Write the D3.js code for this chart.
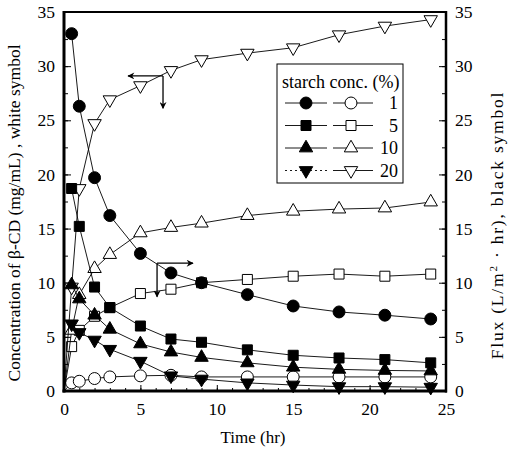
<!DOCTYPE html>
<html>
<head>
<meta charset="utf-8">
<script src="https://cdn.jsdelivr.net/npm/d3@7"></script>
<style>
  html, body { margin: 0; padding: 0; background: #fff; }
  text { font-family: "Liberation Serif", "DejaVu Serif", serif; fill: #000; }
</style>
</head>
<body>
<div id="chart"></div>
<script>
// sampling times (hr)
var fluxTimes = [0.5, 1, 2, 3, 5, 7, 9, 12, 15, 18, 21, 24];
var concTimes = [0, 0.5, 1, 2, 3, 5, 7, 9, 12, 15, 18, 21, 24];

// flux (L/m2 hr), black symbols
var flux1 = [33.0, 26.3, 19.7, 16.2, 12.7, 10.9, 10.0, 8.9, 7.85, 7.3, 7.0, 6.65];
var flux5 = [18.7, 15.2, 9.6, 7.7, 6.0, 4.8, 4.5, 3.8, 3.3, 3.05, 2.9, 2.6];
var flux10 = [9.8, 8.5, 7.0, 5.7, 4.35, 3.6, 3.1, 2.6, 2.2, 2.0, 1.9, 1.85];
var flux20 = [6.2, 5.4, 4.7, 3.85, 2.75, 1.4, 1.1, 0.75, 0.55, 0.4, 0.4, 0.35];

// beta-CD concentration (mg/mL), white symbols
var conc1 = [0, 0.75, 0.9, 1.15, 1.3, 1.4, 1.45, 1.3, 1.3, 1.3, 1.3, 1.3, 1.3];
var conc5 = [0, 4.1, 5.6, 6.9, 7.7, 9.0, 9.4, 10.0, 10.3, 10.6, 10.8, 10.6, 10.8];
var conc10 = [0, 5.6, 8.9, 11.3, 12.6, 14.6, 15.1, 15.5, 16.2, 16.6, 16.8, 16.9, 17.45];
var conc20 = [0, 9.6, 18.7, 24.7, 26.9, 28.2, 29.6, 30.6, 31.2, 31.7, 32.9, 33.7, 34.3];

var starchLabels = ["1", "5", "10", "20"];
var xTicks = [0, 5, 10, 15, 20, 25];
var yTicks = [0, 5, 10, 15, 20, 25, 30, 35];

// arrows: [corner t, corner v, horizontal end t, vertical end v]
var arrowConc = [6.48, 29.1, 4.19, 26.1];
var arrowFlux = [6.09, 11.8, 8.44, 8.7];

var width = 512,
    height = 457,
    plotLeft = 64,
    plotRight = 446,
    plotTop = 12,
    plotBottom = 391;

var svg = d3.select("#chart")
    .append("svg")
    .attr("width", width)
    .attr("height", height);

var defs = svg.append("defs");
defs.append("marker")
    .attr("id", "head")
    .attr("viewBox", "0 0 10 10")
    .attr("refX", 9)
    .attr("refY", 5)
    .attr("markerWidth", 10)
    .attr("markerHeight", 7)
    .attr("markerUnits", "userSpaceOnUse")
    .attr("orient", "auto")
    .append("path")
    .attr("d", "M0,0 L10,5 L0,10 L3,5 Z")
    .style("fill", "#000");

var x = d3.scaleLinear().domain([0, 25]).range([plotLeft, plotRight]);
var y = d3.scaleLinear().domain([0, 35]).range([plotBottom, plotTop]);

function styleAxis(g) {
    g.select(".domain").remove();
    g.selectAll(".tick line").style("stroke", "#000").style("stroke-width", "1px");
    g.selectAll(".tick text")
        .style("font-family", "'Liberation Serif', serif")
        .style("font-size", "17.5px")
        .style("fill", "#000");
}

// minor + major ticks, pointing inward
svg.append("g")
    .attr("transform", "translate(0," + plotBottom + ")")
    .call(d3.axisBottom(x).tickValues(d3.range(0, 26, 1)).tickSizeInner(-3).tickSizeOuter(0).tickFormat(""))
    .call(styleAxis);
svg.append("g")
    .attr("transform", "translate(0," + plotBottom + ")")
    .call(d3.axisBottom(x).tickValues(xTicks).tickSizeInner(-6).tickSizeOuter(0).tickPadding(12))
    .call(styleAxis);

svg.append("g")
    .attr("transform", "translate(" + plotLeft + ",0)")
    .call(d3.axisLeft(y).tickValues(d3.range(0, 36, 2.5)).tickSizeInner(-4).tickSizeOuter(0).tickFormat(""))
    .call(styleAxis);
svg.append("g")
    .attr("transform", "translate(" + plotLeft + ",0)")
    .call(d3.axisLeft(y).tickValues(yTicks).tickSizeInner(-7).tickSizeOuter(0).tickPadding(9))
    .call(styleAxis);

svg.append("g")
    .attr("transform", "translate(" + plotRight + ",0)")
    .call(d3.axisRight(y).tickValues(d3.range(0, 36, 2.5)).tickSizeInner(-4).tickSizeOuter(0).tickFormat(""))
    .call(styleAxis);
svg.append("g")
    .attr("transform", "translate(" + plotRight + ",0)")
    .call(d3.axisRight(y).tickValues(yTicks).tickSizeInner(-7).tickSizeOuter(0).tickPadding(9))
    .call(styleAxis);

// frame
svg.append("line").attr("x1", plotLeft).attr("x2", plotLeft).attr("y1", plotTop - 1).attr("y2", plotBottom + 1.5)
    .style("stroke", "#000").style("stroke-width", "3px");
svg.append("line").attr("x1", plotLeft - 1.5).attr("x2", plotRight + 1).attr("y1", plotBottom).attr("y2", plotBottom)
    .style("stroke", "#000").style("stroke-width", "3px");
svg.append("line").attr("x1", plotRight).attr("x2", plotRight).attr("y1", plotTop - 1).attr("y2", plotBottom + 1.5)
    .style("stroke", "#000").style("stroke-width", "2.5px");
svg.append("line").attr("x1", plotLeft).attr("x2", plotRight).attr("y1", plotTop).attr("y2", plotTop)
    .style("stroke", "#000").style("stroke-width", "2px");

// symbols
var symTypes = [d3.symbolCircle, d3.symbolSquare, d3.symbolTriangle, d3.symbolTriangle];
var symSizes = [112, 100, 78, 78];
var symFlip = [false, false, false, true];

function symbolPath(i) {
    return d3.symbol().type(symTypes[i]).size(symSizes[i])();
}

var line = d3.line()
    .x(function (d) { return x(d[0]); })
    .y(function (d) { return y(d[1]); });

function drawSeries(times, values, i, filled) {
    var pts = times.map(function (t, k) { return [t, values[k]]; });
    svg.append("path")
        .attr("d", line(pts))
        .style("fill", "none")
        .style("stroke", "#000")
        .style("stroke-width", "0.9px");
    svg.append("g").selectAll("path")
        .data(pts.filter(function (d) { return d[0] > 0; }))
        .enter().append("path")
        .attr("d", symbolPath(i))
        .attr("transform", function (d) {
            return "translate(" + x(d[0]) + "," + y(d[1]) + ")" + (symFlip[i] ? " rotate(180)" : "");
        })
        .style("fill", filled ? "#000" : "#fff")
        .style("stroke", "#000")
        .style("stroke-width", "1px");
}

var concSets = [conc1, conc5, conc10, conc20];
var fluxSets = [flux1, flux5, flux10, flux20];
concSets.forEach(function (v, i) { drawSeries(concTimes, v, i, false); });
fluxSets.forEach(function (v, i) { drawSeries(fluxTimes, v, i, true); });

// arrows
function drawArrow(a) {
    svg.append("line")
        .attr("x1", x(a[0])).attr("y1", y(a[1]))
        .attr("x2", x(a[2])).attr("y2", y(a[1]))
        .attr("marker-end", "url(#head)")
        .style("stroke", "#000").style("stroke-width", "1.3px");
    svg.append("line")
        .attr("x1", x(a[0])).attr("y1", y(a[1]))
        .attr("x2", x(a[0])).attr("y2", y(a[3]))
        .attr("marker-end", "url(#head)")
        .style("stroke", "#000").style("stroke-width", "1.3px");
}
drawArrow(arrowConc);
drawArrow(arrowFlux);

// legend
var legend = svg.append("g");
legend.append("rect")
    .attr("x", 277).attr("y", 64)
    .attr("width", 126).attr("height", 119)
    .style("fill", "#fff")
    .style("stroke", "#000")
    .style("stroke-width", "1px");
legend.append("text")
    .attr("x", 282).attr("y", 88)
    .style("font-size", "18px")
    .text("starch conc. (%)");

starchLabels.forEach(function (lab, i) {
    var ly = 103 + i * 22.5;
    legend.append("line").attr("x1", 285).attr("x2", 327).attr("y1", ly).attr("y2", ly)
        .style("stroke", "#000").style("stroke-width", "0.9px")
        .style("stroke-dasharray", i == 3 ? "2,3" : null);
    legend.append("line").attr("x1", 333).attr("x2", 373).attr("y1", ly).attr("y2", ly)
        .style("stroke", "#000").style("stroke-width", "0.9px");
    legend.append("path").attr("d", symbolPath(i))
        .attr("transform", "translate(306," + ly + ")" + (symFlip[i] ? " rotate(180)" : ""))
        .style("fill", "#000").style("stroke", "#000");
    legend.append("path").attr("d", symbolPath(i))
        .attr("transform", "translate(351," + ly + ")" + (symFlip[i] ? " rotate(180)" : ""))
        .style("fill", "#fff").style("stroke", "#000");
    legend.append("text")
        .attr("x", 398).attr("y", ly + 6)
        .attr("text-anchor", "end")
        .style("font-size", "18px")
        .text(lab);
});

// axis titles
svg.append("text")
    .attr("x", 253).attr("y", 443)
    .attr("text-anchor", "middle")
    .style("font-size", "17px")
    .text("Time (hr)");

svg.append("text")
    .attr("transform", "translate(20,213) rotate(-90)")
    .attr("text-anchor", "middle")
    .style("font-size", "17.5px")
    .text("Concentration of β-CD (mg/mL) , white symbol");

var rt = svg.append("text")
    .attr("transform", "translate(503,225) rotate(-90)")
    .attr("text-anchor", "middle")
    .style("font-size", "17.5px")
    .style("letter-spacing", "1.8px");
rt.append("tspan").text("Flux (L/m");
rt.append("tspan").attr("dy", -6).style("font-size", "11px").text("2");
rt.append("tspan").attr("dy", 6).text(" · hr), black symbol");
</script>
</body>
</html>
